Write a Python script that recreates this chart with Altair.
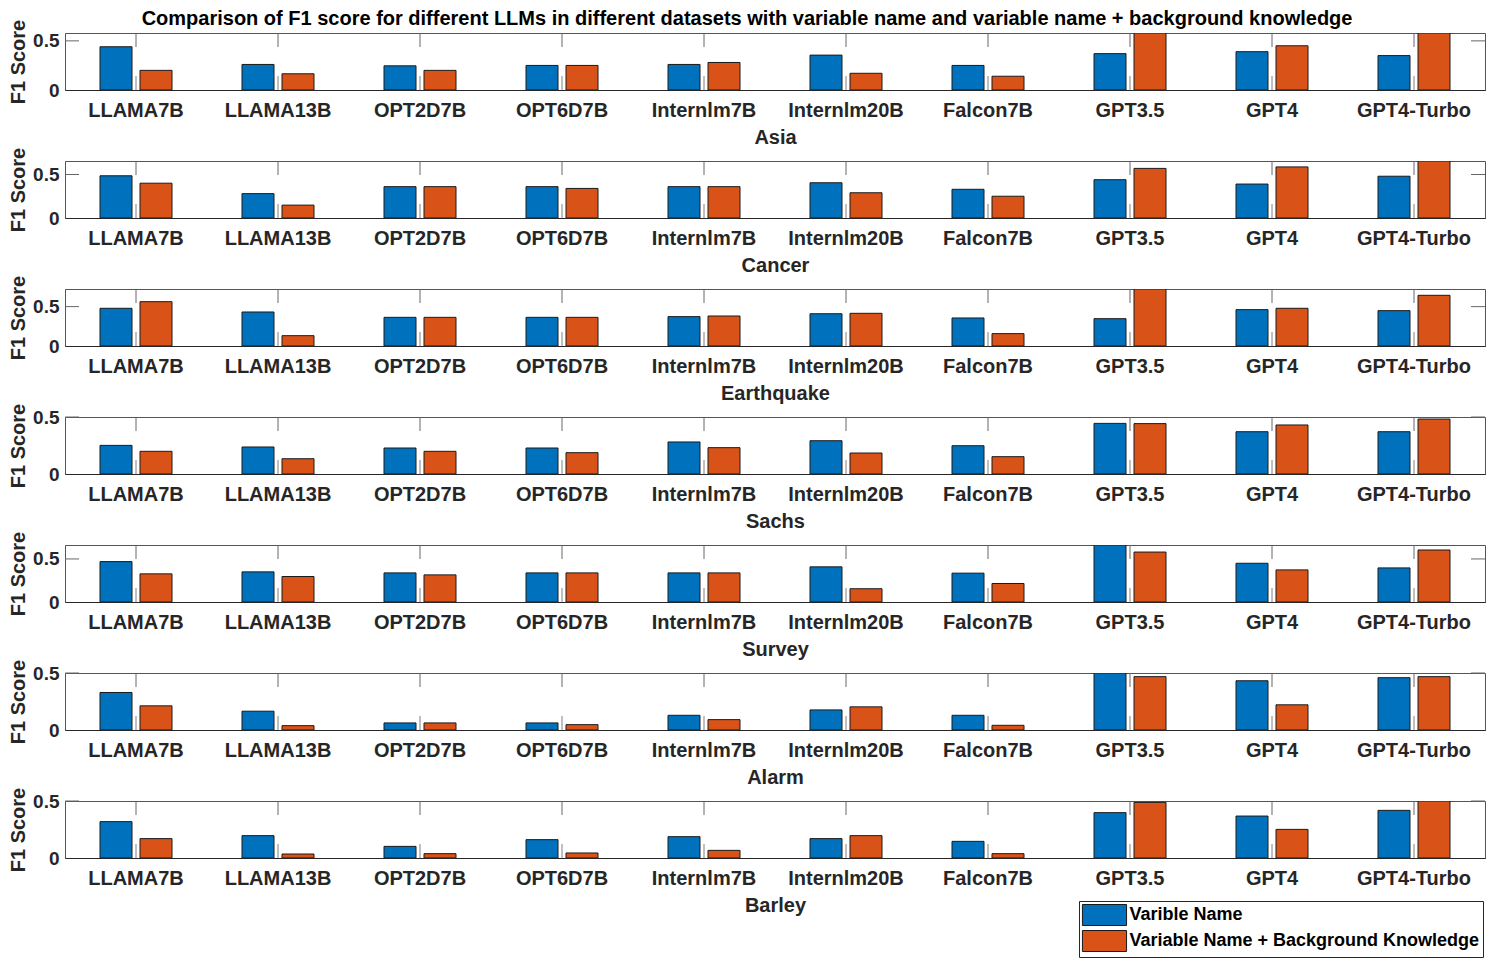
import altair as alt
import pandas as pd

models = ["LLAMA7B", "LLAMA13B", "OPT2D7B", "OPT6D7B", "Internlm7B",
          "Internlm20B", "Falcon7B", "GPT3.5", "GPT4", "GPT4-Turbo"]
datasets = ["Asia", "Cancer", "Earthquake", "Sachs", "Survey", "Alarm", "Barley"]
series = ["Varible Name", "Variable Name + Background Knowledge"]
colors = ["#0072BD", "#D95319"]

# F1 scores, "variable name" series
name_scores = [
    [0.44, 0.26, 0.246, 0.25, 0.26, 0.355, 0.25, 0.37, 0.39, 0.35],      # Asia
    [0.485, 0.28, 0.36, 0.36, 0.36, 0.405, 0.33, 0.44, 0.39, 0.48],      # Cancer
    [0.479, 0.432, 0.364, 0.364, 0.373, 0.41, 0.356, 0.347, 0.462, 0.449],  # Earthquake
    [0.251, 0.237, 0.228, 0.228, 0.281, 0.292, 0.248, 0.444, 0.371, 0.371],  # Sachs
    [0.469, 0.35, 0.338, 0.338, 0.338, 0.408, 0.335, 0.662, 0.45, 0.396],   # Survey
    [0.329, 0.165, 0.062, 0.062, 0.129, 0.176, 0.129, 0.5, 0.432, 0.459],   # Alarm
    [0.319, 0.196, 0.102, 0.161, 0.187, 0.17, 0.146, 0.398, 0.368, 0.418],  # Barley
]
# F1 scores, "variable name + background knowledge" series
bk_scores = [
    [0.20, 0.165, 0.20, 0.25, 0.28, 0.17, 0.14, 0.58, 0.45, 0.58],
    [0.40, 0.148, 0.36, 0.34, 0.36, 0.29, 0.25, 0.57, 0.587, 0.655],
    [0.563, 0.131, 0.364, 0.364, 0.381, 0.415, 0.157, 0.724, 0.479, 0.644],
    [0.199, 0.134, 0.199, 0.187, 0.231, 0.184, 0.152, 0.442, 0.43, 0.482],
    [0.327, 0.296, 0.315, 0.338, 0.338, 0.154, 0.215, 0.58, 0.373, 0.604],
    [0.212, 0.038, 0.062, 0.047, 0.091, 0.203, 0.041, 0.468, 0.221, 0.468],
    [0.17, 0.035, 0.038, 0.044, 0.067, 0.196, 0.038, 0.488, 0.251, 0.5],
]
ylim_max = [0.58, 0.655, 0.724, 0.5, 0.662, 0.5, 0.5]
y_ticks = [0, 0.5]

W, H = 1420, 57
SPACING = 71
TL = 14
FONT = "Liberation Sans"

legend = alt.Legend(
    title=None, orient="none", legendX=1014, legendY=6 * (H + SPACING) + H + 43,
    symbolType="M-2.1,-1H2.1V1H-2.1Z", symbolSize=441, symbolOffset=11.5,
    symbolStrokeColor="#1a1a1a", symbolStrokeWidth=1, symbolOpacity=1,
    labelOffset=14, labelFont=FONT, labelFontSize=18, labelFontWeight="bold",
    labelColor="black", labelLimit=600, padding=3, rowPadding=0,
    strokeColor="#262626", fillColor="white",
)


def panel(i):
    df = pd.DataFrame({
        "model": models * 2,
        "series": [series[0]] * len(models) + [series[1]] * len(models),
        "f1": name_scores[i] + bk_scores[i],
    })
    x = alt.X("model:N", sort=models,
              scale=alt.Scale(paddingInner=0, paddingOuter=0),
              axis=alt.Axis(title=datasets[i], labelAngle=0, ticks=False,
                            domainColor="#262626", labelPadding=10, titlePadding=7))
    y = alt.Y("f1:Q", scale=alt.Scale(domain=[0, ylim_max[i]], nice=False, zero=True),
              axis=alt.Axis(title="F1 Score", values=y_ticks, format="~g", ticks=False,
                            domain=False, grid=False, labelPadding=6, titlePadding=4,
                            labelFontSize=19))
    bars = alt.Chart(df).mark_bar(clip=True, stroke="#1a1a1a", strokeWidth=1).encode(
        x=x,
        xOffset=alt.XOffset("series:N", sort=series,
                            scale=alt.Scale(paddingInner=0.2, paddingOuter=0.875)),
        y=y,
        color=alt.Color("series:N", sort=series,
                        scale=alt.Scale(domain=series, range=colors), legend=legend),
    )
    tdf = pd.DataFrame({"model": models})
    top_ticks = alt.Chart(tdf).mark_rule(color="#666666", strokeWidth=1).encode(
        x=x, y=alt.value(0), y2=alt.value(TL))
    bot_ticks = alt.Chart(tdf).mark_rule(color="#808080", strokeWidth=1).encode(
        x=x, y=alt.value(H - TL), y2=alt.value(H))
    ydf = pd.DataFrame({"f1": [y_ticks[1]]})
    left_ticks = alt.Chart(ydf).mark_rule(color="#666666", strokeWidth=1).encode(
        y=y, x=alt.value(0), x2=alt.value(TL))
    right_ticks = alt.Chart(ydf).mark_rule(color="#666666", strokeWidth=1).encode(
        y=y, x=alt.value(W - TL), x2=alt.value(W))
    return alt.layer(bars, top_ticks, bot_ticks, left_ticks, right_ticks).properties(
        width=W, height=H)


chart = alt.vconcat(*[panel(i) for i in range(len(datasets))], spacing=SPACING, bounds="flush").properties(
    title=alt.Title(
        text="Comparison of F1 score for different LLMs in different datasets with variable name and variable name + background knowledge",
        font=FONT, fontSize=20, fontWeight="bold", color="black", anchor="middle", offset=-10),
    padding=0,
).resolve_scale(y="independent", color="shared").configure(
    font=FONT
).configure_view(
    stroke="#555555", strokeWidth=1
).configure_axis(
    labelFont=FONT, labelFontSize=20, labelFontWeight="bold", labelColor="#262626",
    titleFont=FONT, titleFontSize=20, titleFontWeight="bold", titleColor="#262626",
)

chart.save("out.html", embed_options={"renderer": "svg", "actions": False})
